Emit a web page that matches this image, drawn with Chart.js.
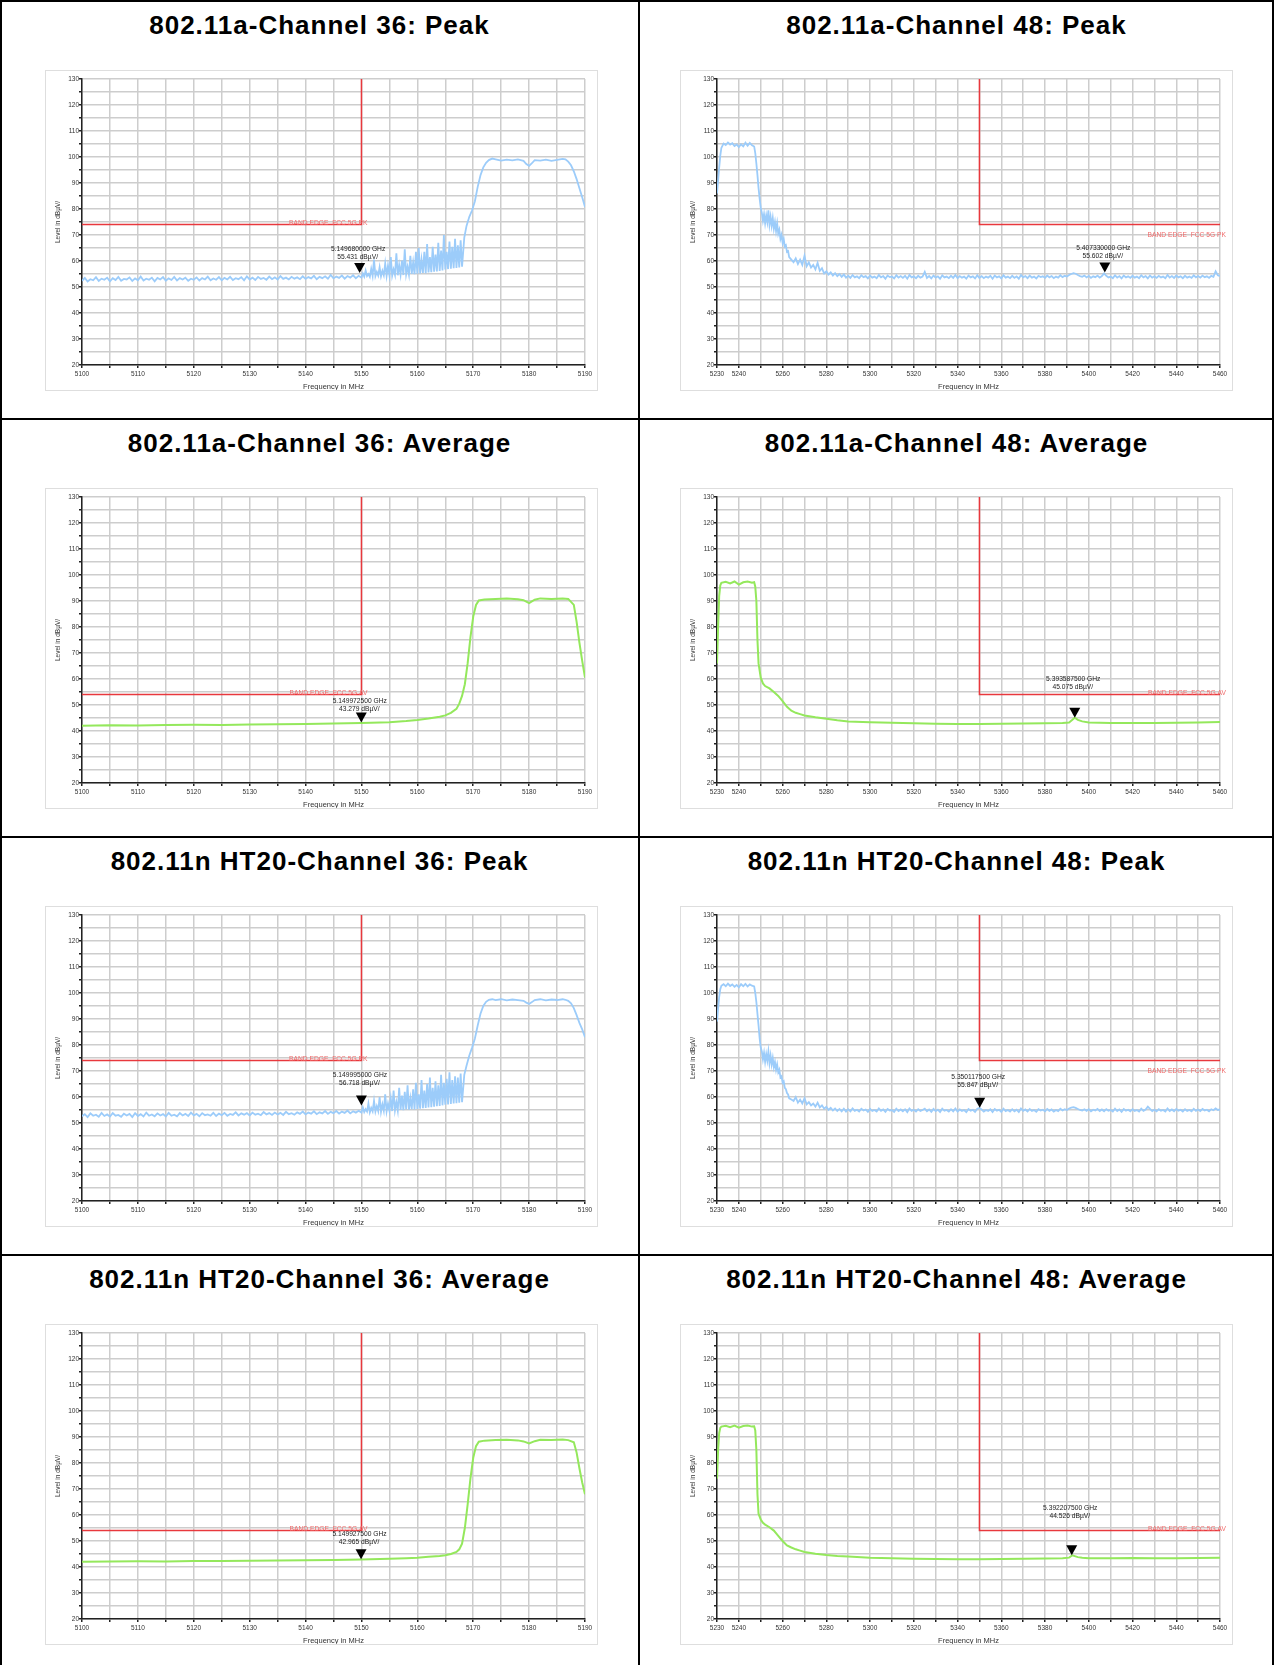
<!DOCTYPE html>
<html>
<head>
<meta charset="utf-8">
<script src="https://cdn.jsdelivr.net/npm/chart.js@4.4.1/dist/chart.umd.min.js"></script>
<style>
  body { margin: 0; background: #fff; }
  #page { position: relative; width: 1274px; height: 1665px; overflow: hidden; background: #fff; }
  .rule { position: absolute; background: #000; }
  .title { position: absolute; height: 30px; line-height: 30px; text-align: center;
           font: bold 26px "Liberation Sans", Arial, sans-serif; letter-spacing: 1px; color: #000; }
  canvas { position: absolute; outline: 1px solid #dedede; outline-offset: -1px; }
</style>
</head>
<body>
<div id="page"></div>
<script>
// ---- data ----
const chartTitles = [
  "802.11a-Channel 36: Peak", "802.11a-Channel 48: Peak",
  "802.11a-Channel 36: Average", "802.11a-Channel 48: Average",
  "802.11n HT20-Channel 36: Peak", "802.11n HT20-Channel 48: Peak",
  "802.11n HT20-Channel 36: Average", "802.11n HT20-Channel 48: Average"
];

const yTickLabels = [20, 30, 40, 50, 60, 70, 80, 90, 100, 110, 120, 130];
const ch36TickLabels = [5100, 5110, 5120, 5130, 5140, 5150, 5160, 5170, 5180, 5190];
const ch48TickLabels = [5230, 5240, 5260, 5280, 5300, 5320, 5340, 5360, 5380, 5400, 5420, 5440, 5460];

// limit lines (FCC band edge)
const ch36LimitFreq = [5100, 5150, 5150];
const ch48LimitFreq = [5350, 5350, 5460];
const peakLimit36 = [74, 74, 130];
const peakLimit48 = [130, 74, 74];
const avgLimit36 = [54, 54, 130];
const avgLimit48 = [130, 54, 54];

// peak sweeps, channel 36
const ch36PeakFreq = [
  5100, 5100.5, 5101, 5101.5, 5102, 5102.5, 5103, 5103.5, 5104, 5104.5,
  5105, 5105.5, 5106, 5106.5, 5107, 5107.5, 5108, 5108.5, 5109, 5109.5,
  5110, 5110.5, 5111, 5111.5, 5112, 5112.5, 5113, 5113.5, 5114, 5114.5,
  5115, 5115.5, 5116, 5116.5, 5117, 5117.5, 5118, 5118.5, 5119, 5119.5,
  5120, 5120.5, 5121, 5121.5, 5122, 5122.5, 5123, 5123.5, 5124, 5124.5,
  5125, 5125.5, 5126, 5126.5, 5127, 5127.5, 5128, 5128.5, 5129, 5129.5,
  5130, 5130.5, 5131, 5131.5, 5132, 5132.5, 5133, 5133.5, 5134, 5134.5,
  5135, 5135.5, 5136, 5136.5, 5137, 5137.5, 5138, 5138.5, 5139, 5139.5,
  5140, 5140.5, 5141, 5141.5, 5142, 5142.5, 5143, 5143.5, 5144, 5144.5,
  5145, 5145.5, 5146, 5146.5, 5147, 5147.5, 5148, 5148.5, 5149, 5149.5,
  5150,
  5150.25, 5150.5, 5150.75, 5151, 5151.25, 5151.5, 5151.75, 5152,
  5152.25, 5152.5, 5152.75, 5153, 5153.25, 5153.5, 5153.75, 5154,
  5154.25, 5154.5, 5154.75, 5155, 5155.25, 5155.5, 5155.75, 5156,
  5156.25, 5156.5, 5156.75, 5157, 5157.25, 5157.5, 5157.75, 5158,
  5158.25, 5158.5, 5158.75, 5159, 5159.25, 5159.5, 5159.75, 5160,
  5160.25, 5160.5, 5160.75, 5161, 5161.25, 5161.5, 5161.75, 5162,
  5162.25, 5162.5, 5162.75, 5163, 5163.25, 5163.5, 5163.75, 5164,
  5164.25, 5164.5, 5164.75, 5165, 5165.25, 5165.5, 5165.75, 5166,
  5166.25, 5166.5, 5166.75, 5167, 5167.25, 5167.5, 5167.75, 5168,
  5168.4, 5168.8, 5169.3, 5169.8, 5170.3, 5170.8, 5171.3, 5171.8, 5172.3, 5172.8,
  5173.4, 5174, 5175, 5176, 5177, 5178, 5179, 5179.5, 5180, 5180.5,
  5181, 5182, 5183, 5184, 5185, 5186, 5186.5, 5187, 5187.5, 5188,
  5188.5, 5189, 5189.5, 5190
];
const a36Peak = [
  52.4, 53.5, 52.1, 53.0, 52.6, 53.8, 52.3, 53.2, 52.8, 53.6,
  52.2, 53.4, 52.7, 53.9, 52.4, 53.1, 52.9, 53.7, 52.3, 53.3,
  52.6, 54.0, 52.5, 53.2, 52.8, 53.6, 52.2, 53.5, 52.9, 53.8,
  52.4, 53.3, 52.7, 53.9, 52.5, 53.4, 52.9, 53.6, 52.4, 53.2,
  52.8, 53.7, 52.5, 53.4, 52.9, 54.0, 52.6, 53.3, 52.8, 53.8,
  52.6, 53.5, 52.9, 53.9, 52.7, 53.4, 53.0, 53.8, 52.6, 54.1,
  52.9, 53.6, 52.7, 53.9, 53.1, 53.5, 52.8, 54.0, 53.0, 53.7,
  52.9, 54.2, 53.1, 53.6, 52.9, 53.9, 53.2, 53.7, 53.0, 54.1,
  53.1, 53.8, 53.3, 54.3, 53.0, 53.9, 53.4, 54.1, 53.2, 54.6,
  53.3, 54.0, 53.5, 54.4, 53.2, 54.2, 53.6, 54.5, 53.4, 54.3,
  53.6,
  55.2, 54.0, 56.3, 54.2, 55.0, 53.9, 57.0, 54.3,
  60.5, 54.2, 55.8, 54.4, 57.6, 54.1, 56.2, 54.5,
  59.0, 54.3, 58.2, 54.6, 61.5, 54.4, 56.8, 54.7,
  63.0, 54.5, 58.5, 54.8, 60.2, 54.6, 64.5, 54.9,
  57.8, 54.8, 62.0, 55.0, 59.5, 54.9, 63.5, 55.1,
  65.0, 55.2, 60.5, 55.4, 63.5, 55.3, 66.5, 55.6,
  61.5, 55.7, 65.5, 55.9, 62.5, 56.0, 67.0, 56.2,
  64.0, 56.4, 70.0, 56.7, 63.5, 56.9, 67.5, 57.0,
  65.5, 57.2, 68.5, 57.3, 66.0, 57.5, 68.0, 57.8,
  69.0, 73.5, 77.0, 79.5, 83.0, 88.5, 93.0, 96.0, 97.8, 98.8,
  99.4, 99.1, 98.6, 99.0, 98.7, 99.1, 98.5, 97.3, 96.6, 97.6,
  98.8, 98.6, 99.0, 98.5, 98.9, 99.3, 99.1, 98.2, 96.8, 94.5,
  91.5, 88.0, 84.5, 80.8
];
const n36Peak = [
  52.6, 53.4, 52.3, 53.7, 52.8, 53.2, 52.4, 53.9, 52.7, 53.3,
  52.5, 53.8, 52.8, 53.1, 52.4, 53.6, 52.9, 53.5, 52.3, 53.8,
  52.7, 53.4, 52.5, 54.0, 52.8, 53.3, 52.6, 53.7, 52.9, 53.4,
  52.5, 53.9, 52.8, 53.2, 52.6, 53.8, 52.9, 53.5, 52.7, 54.0,
  52.9, 53.5, 52.6, 53.8, 53.0, 53.3, 52.8, 53.9, 52.7, 53.6,
  53.0, 53.9, 52.8, 53.5, 53.1, 54.1, 52.9, 53.7, 53.2, 53.8,
  52.9, 54.0, 53.2, 53.6, 53.0, 54.2, 53.3, 53.8, 53.1, 54.0,
  53.3, 53.9, 53.1, 54.3, 53.4, 53.8, 53.2, 54.1, 53.5, 54.4,
  53.3, 54.0, 53.6, 54.5, 53.4, 54.1, 53.7, 54.6, 53.5, 54.3,
  53.8, 54.6, 53.6, 54.4, 53.9, 54.8, 53.7, 54.5, 54.0, 54.7,
  54.0,
  56.0, 54.2, 55.3, 54.4, 57.5, 54.1, 55.8, 54.5,
  58.5, 54.4, 56.5, 54.6, 60.0, 54.3, 57.2, 54.7,
  61.0, 54.5, 57.5, 54.8, 59.5, 54.6, 62.5, 54.9,
  58.0, 54.8, 63.5, 55.0, 60.5, 54.9, 62.0, 55.2,
  64.5, 55.1, 59.5, 55.3, 63.0, 55.2, 65.5, 55.4,
  61.0, 55.5, 66.5, 55.7, 62.5, 55.8, 65.0, 56.0,
  67.5, 56.1, 63.5, 56.3, 66.0, 56.5, 64.5, 56.6,
  68.5, 56.8, 65.5, 57.0, 67.0, 57.1, 69.5, 57.3,
  66.5, 57.5, 68.0, 57.6, 67.5, 57.8, 69.0, 58.0,
  68.5, 72.0, 76.0, 79.0, 82.5, 87.5, 92.0, 95.0, 96.6, 97.4,
  97.6, 97.3, 97.6, 97.2, 97.5, 97.3, 97.0, 96.3, 95.8, 96.5,
  97.3, 97.6, 97.2, 97.5, 97.3, 97.6, 97.4, 97.0, 96.0, 94.2,
  91.5, 88.5, 86.0, 83.0
];

// peak sweeps, channel 48
const ch48PeakFreq = [
  5230, 5230.5, 5231, 5231.5, 5232, 5233, 5234, 5235, 5236, 5237,
  5238, 5239, 5240, 5241, 5242, 5243, 5244, 5245, 5246, 5247,
  5247.5, 5248, 5248.5, 5249, 5249.5, 5250, 5250.5, 5251, 5251.5, 5252,
  5252.5, 5253, 5253.5, 5254, 5254.5, 5255, 5255.5, 5256, 5256.5, 5257,
  5257.5, 5258, 5258.5, 5259, 5259.5, 5260, 5260.5, 5261, 5261.5, 5262,
  5262.5, 5263, 5264, 5265, 5266, 5267, 5268, 5269, 5270, 5271,
  5272, 5273, 5274, 5275, 5276, 5277, 5278, 5279, 5280, 5281,
  5282, 5283, 5284, 5285, 5286, 5287, 5288, 5289,
  5290, 5291, 5292, 5293, 5294, 5295, 5296, 5297, 5298, 5299,
  5300, 5301, 5302, 5303, 5304, 5305, 5306, 5307, 5308, 5309,
  5310, 5311, 5312, 5313, 5314, 5315, 5316, 5317, 5318, 5319,
  5320, 5321, 5322, 5323, 5324, 5325, 5326, 5327, 5328, 5329,
  5330, 5331, 5332, 5333, 5334, 5335, 5336, 5337, 5338, 5339,
  5340, 5341, 5342, 5343, 5344, 5345, 5346, 5347, 5348, 5349,
  5350, 5351, 5352, 5353, 5354, 5355, 5356, 5357, 5358, 5359,
  5360, 5361, 5362, 5363, 5364, 5365, 5366, 5367, 5368, 5369,
  5370, 5371, 5372, 5373, 5374, 5375, 5376, 5377, 5378, 5379,
  5380, 5381, 5382, 5383, 5384, 5385, 5386, 5387, 5388, 5389,
  5390, 5391, 5392, 5393, 5394, 5395, 5396, 5397, 5398, 5399,
  5400, 5401, 5402, 5403, 5404, 5405, 5406, 5407, 5408, 5409,
  5410, 5411, 5412, 5413, 5414, 5415, 5416, 5417, 5418, 5419,
  5420, 5421, 5422, 5423, 5424, 5425, 5426, 5427, 5428, 5429,
  5430, 5431, 5432, 5433, 5434, 5435, 5436, 5437, 5438, 5439,
  5440, 5441, 5442, 5443, 5444, 5445, 5446, 5447, 5448, 5449,
  5450, 5451, 5452, 5453, 5454, 5455, 5456, 5457, 5458, 5459,
  5460
];
const a48Peak = [
  86.0, 91.0, 96.0, 100.5, 103.5, 105.2, 104.6, 105.6, 104.8, 105.3,
  104.2, 104.8, 103.8, 104.9, 104.1, 105.5, 104.3, 105.4, 104.5, 104.0,
  101.5, 97.5, 93.0, 88.0, 84.0, 80.5, 78.5, 75.5, 78.0, 74.5,
  77.5, 75.0, 79.5, 74.0, 77.0, 73.5, 76.5, 72.5, 75.0, 71.5,
  74.5, 70.5, 72.0, 68.5, 70.0, 67.0, 68.5, 65.5, 66.0, 63.5,
  63.8, 61.5, 60.5, 59.5, 61.0, 58.8, 60.5, 58.5, 62.0, 58.0,
  59.5, 57.5, 58.5, 56.8, 59.3, 56.2, 57.2, 55.2, 56.0, 54.8,
  55.6, 54.4, 55.3, 54.2, 55.0, 53.9, 54.8, 53.6,
  54.3, 53.5, 54.6, 53.7, 54.1, 53.4, 54.5, 53.8, 54.2, 53.3,
  54.4, 53.6, 54.0, 53.4, 54.6, 53.7, 54.2, 53.2, 54.4, 53.8,
  54.0, 53.3, 54.5, 53.6, 54.2, 53.5, 54.3, 53.2, 54.6, 53.7,
  54.1, 53.4, 54.3, 53.6, 54.0, 55.8, 53.5, 54.2, 53.3, 54.4,
  53.6, 54.1, 53.2, 54.5, 53.7, 54.0, 53.4, 54.3, 53.5, 54.6,
  53.4, 54.2, 53.6, 54.0, 53.2, 54.4, 53.7, 54.1, 53.3, 54.5,
  53.5, 54.2, 53.4, 54.0, 53.6, 54.3, 53.2, 54.4, 53.7, 54.1,
  53.3, 54.5, 53.6, 54.0, 53.4, 54.3, 53.5, 54.1, 53.2, 54.6,
  53.7, 54.2, 53.4, 54.4, 53.6, 54.0, 53.3, 54.3, 53.8, 54.1,
  53.5, 54.4, 53.7, 54.2, 53.4, 54.0, 53.6, 54.5, 53.8, 54.3,
  54.0, 54.6, 55.0, 55.3, 55.1, 54.6, 54.2, 53.9, 54.4, 53.7,
  54.3, 53.5, 54.1, 53.8, 54.4, 53.6, 54.2, 55.2, 54.3, 53.7,
  54.0, 53.4, 54.5, 53.6, 54.2, 53.3, 54.4, 53.7, 54.1, 53.5,
  54.3, 53.6, 54.0, 53.4, 54.5, 53.7, 54.2, 53.3, 54.4, 53.6,
  54.1, 53.5, 54.3, 53.7, 54.0, 53.4, 54.6, 53.6, 54.2, 53.5,
  54.4, 53.7, 54.1, 53.4, 54.3, 53.6, 54.0, 53.5, 54.5, 53.7,
  54.2, 53.6, 54.4, 53.8, 54.1, 53.5, 54.3, 53.9, 56.0, 54.5,
  54.2
];
const n48Peak = [
  89.0, 94.0, 98.5, 101.5, 102.8, 103.4, 102.6, 103.6, 102.7, 103.3,
  102.4, 103.1, 102.2, 103.4, 102.6, 103.5, 102.5, 103.3, 102.8, 102.5,
  100.0, 96.5, 92.0, 87.5, 82.5, 79.0, 77.5, 74.5, 77.0, 73.5,
  76.5, 74.0, 77.5, 73.0, 76.0, 72.5, 75.0, 71.5, 73.5, 70.5,
  72.5, 69.5, 70.5, 67.5, 68.0, 65.5, 66.0, 63.5, 63.0, 61.5,
  61.0, 59.5, 59.0, 58.5, 60.0, 57.8, 59.0, 57.5, 59.5, 57.2,
  58.0, 56.8, 57.5, 56.3, 57.8, 56.0, 56.8, 55.5, 56.2, 55.0,
  55.8, 54.8, 55.6, 54.6, 55.4, 54.5, 55.5, 54.4,
  55.3, 54.5, 55.6, 54.7, 55.1, 54.4, 55.5, 54.8, 55.2, 54.3,
  55.4, 54.6, 55.0, 54.4, 55.6, 54.7, 55.2, 54.3, 55.4, 54.8,
  55.0, 54.3, 55.5, 54.6, 55.2, 54.5, 55.3, 54.2, 55.6, 54.7,
  55.1, 54.4, 55.3, 54.6, 55.0, 55.5, 54.5, 55.2, 54.3, 55.4,
  54.6, 55.1, 54.2, 55.5, 54.7, 55.0, 54.4, 55.3, 54.5, 55.6,
  54.4, 55.2, 54.6, 55.0, 54.2, 55.4, 54.7, 55.1, 54.3, 55.5,
  55.8, 55.2, 54.4, 55.0, 54.6, 55.3, 54.2, 55.4, 54.7, 55.1,
  54.3, 55.5, 54.6, 55.0, 54.4, 55.3, 54.5, 55.1, 54.2, 55.6,
  54.7, 55.2, 54.4, 55.4, 54.6, 55.0, 54.3, 55.3, 54.8, 55.1,
  54.5, 55.4, 54.7, 55.2, 54.4, 55.0, 54.6, 55.5, 54.8, 55.3,
  55.0, 55.6, 55.9, 56.1, 55.8, 55.4, 55.0, 54.8, 55.3, 54.7,
  55.3, 54.5, 55.1, 54.8, 55.4, 54.6, 55.2, 54.5, 55.3, 54.7,
  55.0, 54.4, 55.5, 54.6, 55.2, 54.3, 55.4, 54.7, 55.1, 54.5,
  55.3, 54.6, 55.0, 54.4, 55.5, 54.7, 55.2, 56.3, 55.4, 54.6,
  55.1, 54.5, 55.3, 54.7, 55.0, 54.4, 55.6, 54.6, 55.2, 54.5,
  55.4, 54.7, 55.1, 54.4, 55.3, 54.6, 55.0, 54.5, 55.5, 54.7,
  55.2, 54.6, 55.4, 54.8, 55.1, 54.5, 55.3, 54.9, 55.6, 55.0,
  55.2
];

// average sweeps, channel 36
const ch36AvgFreq = [
  5100, 5105, 5110, 5115, 5120, 5125, 5130, 5135, 5140, 5145,
  5150, 5155, 5158, 5160, 5162, 5164, 5165, 5166, 5167, 5167.5,
  5168, 5168.5, 5169, 5169.5, 5170, 5170.5, 5171, 5172, 5174, 5176,
  5178, 5179, 5180, 5181, 5182, 5184, 5186, 5187, 5188, 5188.5,
  5189, 5189.5, 5190
];
const a36Avg = [
  42.0, 42.2, 42.1, 42.3, 42.4, 42.3, 42.5, 42.6, 42.7, 42.9,
  43.1, 43.4, 43.8, 44.2, 44.8, 45.5, 46.0, 47.0, 48.5, 50.5,
  53.5, 58.0, 66.0, 76.0, 84.0, 88.5, 90.2, 90.6, 90.8, 91.0,
  90.7, 90.3, 89.2, 90.5, 91.0, 90.8, 91.0, 90.8, 88.5, 82.0,
  74.0, 67.0, 60.5
];
const n36Avg = [
  42.0, 42.1, 42.2, 42.1, 42.3, 42.3, 42.4, 42.5, 42.6, 42.7,
  42.9, 43.2, 43.4, 43.6, 43.9, 44.2, 44.5, 45.0, 45.8, 46.8,
  49.0, 55.0, 64.0, 74.0, 82.0, 86.5, 88.2, 88.6, 88.8, 88.9,
  88.7, 88.3, 87.5, 88.4, 88.9, 88.8, 89.0, 88.8, 88.0, 84.0,
  78.0, 72.5, 68.0
];

// average sweeps, channel 48
const ch48AvgFreq = [
  5230, 5230.5, 5231, 5231.5, 5232, 5234, 5236, 5238, 5240, 5242,
  5244, 5246, 5247, 5247.5, 5248, 5248.5, 5249, 5250, 5251, 5252,
  5254, 5256, 5258, 5260, 5262, 5264, 5266, 5268, 5270, 5275,
  5280, 5285, 5290, 5300, 5310, 5320, 5330, 5340, 5350, 5360,
  5370, 5380, 5388, 5391, 5392.5, 5393.6, 5395, 5397, 5400, 5410,
  5420, 5430, 5440, 5450, 5460
];
const a48Avg = [
  66.0, 80.0, 92.0, 96.0, 97.0, 97.4, 96.8, 97.5, 96.3, 97.2,
  97.5, 97.0, 97.2, 95.5, 90.0, 75.0, 66.0, 60.5, 58.3, 57.3,
  56.4, 55.0, 53.5, 51.5, 49.3, 47.8, 47.0, 46.5, 46.0, 45.3,
  44.7, 44.1, 43.7, 43.4, 43.2, 43.0, 42.8, 42.7, 42.7, 42.8,
  42.9, 43.0, 43.1, 43.3, 44.3, 45.1, 44.3, 43.7, 43.3, 43.1,
  43.1, 43.1, 43.2, 43.3, 43.5
];
const n48Avg = [
  74.0, 85.0, 91.5, 93.5, 94.0, 94.3, 93.8, 94.4, 93.6, 94.2,
  94.4, 94.0, 94.1, 92.5, 85.0, 68.0, 60.5, 58.3, 57.0, 56.3,
  55.3, 54.0, 52.0, 50.0, 48.3, 47.5, 46.8, 46.3, 45.8, 45.1,
  44.6, 44.2, 44.0, 43.6, 43.4, 43.2, 43.1, 43.0, 43.0, 43.1,
  43.2, 43.3, 43.4, 43.6, 44.5, 44.2, 43.8, 43.6, 43.4, 43.4,
  43.5, 43.4, 43.4, 43.5, 43.6
];

// marker readouts (frequency in MHz, level in dBµV)
const markerFreq = [5149.68, 5407.33, 5149.9725, 5393.5875, 5149.995, 5350.1175, 5149.9275, 5392.2075];
const markerLevel = [55.431, 55.602, 43.279, 45.075, 56.718, 55.847, 42.965, 44.526];
const markerText = [
  ["5.149680000 GHz", "55.431 dBµV/"], ["5.407330000 GHz", "55.602 dBµV/"],
  ["5.149972500 GHz", "43.279 dBµV/"], ["5.393587500 GHz", "45.075 dBµV/"],
  ["5.149995000 GHz", "56.718 dBµV/"], ["5.350117500 GHz", "55.847 dBµV/"],
  ["5.149927500 GHz", "42.965 dBµV/"], ["5.392207500 GHz", "44.526 dBµV/"]
];

// ---- page layout ----
const FONT = '"Liberation Sans", Arial, sans-serif';
const PEAK_COLOR = "#9cccfa";
const AVG_COLOR = "#94e85c";
const LIMIT_COLOR = "#e8383d";
const ROW_H = 418;
const COL_X = [0, 639];
const COL_W = [639, 635];

Chart.defaults.font.family = FONT;
Chart.defaults.animation = false;

const page = document.getElementById("page");
function rule(x, y, w, h) {
  const d = document.createElement("div");
  d.className = "rule";
  Object.assign(d.style, { left: x + "px", top: y + "px", width: w + "px", height: h + "px" });
  page.appendChild(d);
}
rule(0, 0, 1274, 2);
rule(0, 0, 2, 1665);
rule(1272, 0, 2, 1665);
rule(638, 0, 2, 1665);
for (let r = 1; r < 4; r++) rule(0, ROW_H * r, 1274, 2);

function pts(xs, ys) {
  if (xs.length !== ys.length) console.warn("length mismatch", xs.length, ys.length);
  return xs.map((x, i) => ({ x: x, y: ys[i] }));
}

// draws the limit label, the marker triangle and its readout
const markerPlugin = {
  id: "marker",
  afterDatasetsDraw(chart) {
    const o = chart.options.plugins.marker;
    const xs = chart.scales.x, ys = chart.scales.y;
    const ctx = chart.ctx;
    ctx.save();
    // limit label
    ctx.font = "6.7px " + FONT;
    ctx.fillStyle = "#f06a6a";
    ctx.textAlign = "right";
    ctx.textBaseline = "alphabetic";
    const lx = xs.getPixelForValue(o.labelFreq) + 6;
    const ly = ys.getPixelForValue(o.limit) + (o.labelBelow ? 12 : 0);
    ctx.fillText(o.label, lx, ly);
    // marker
    const px = xs.getPixelForValue(o.freq);
    const py = ys.getPixelForValue(o.level);
    ctx.fillStyle = "#000";
    ctx.beginPath();
    ctx.moveTo(px - 5.5, py - 10);
    ctx.lineTo(px + 5.5, py - 10);
    ctx.lineTo(px, py);
    ctx.closePath();
    ctx.fill();
    ctx.fillStyle = "#222";
    ctx.textAlign = "center";
    ctx.textBaseline = "middle";
    ctx.fillText(o.text[0], px - 1.5, py + o.textDy);
    ctx.fillText(o.text[1], px - 2, py + o.textDy + 8);
    ctx.restore();
  }
};

function makeChart(idx, cfg) {
  const col = idx % 2, row = Math.floor(idx / 2);
  const t = document.createElement("div");
  t.className = "title";
  t.textContent = chartTitles[idx];
  Object.assign(t.style, { left: COL_X[col] + "px", width: COL_W[col] + "px", top: (ROW_H * row + 10) + "px" });
  page.appendChild(t);

  const cv = document.createElement("canvas");
  cv.width = 553; cv.height = 321;
  Object.assign(cv.style, { left: (col ? 680 : 45) + "px", top: (ROW_H * row + 70) + "px" });
  page.appendChild(cv);

  const xLabels = col ? ch48TickLabels : ch36TickLabels;
  new Chart(cv, {
    type: "line",
    data: {
      datasets: [
        { data: pts(cfg.freq, cfg.level), borderColor: cfg.color, borderWidth: cfg.width,
          pointRadius: 0, tension: 0, order: 2 },
        { data: pts(cfg.limitFreq, cfg.limitLevel), borderColor: LIMIT_COLOR, borderWidth: 1.5,
          pointRadius: 0, tension: 0, order: 1 }
      ]
    },
    options: {
      responsive: false,
      devicePixelRatio: 1,
      layout: { padding: { left: 0, right: 13, top: 9, bottom: 0 } },
      plugins: {
        legend: { display: false },
        tooltip: { enabled: false },
        marker: {
          freq: markerFreq[idx], level: markerLevel[idx], text: markerText[idx], textDy: cfg.textDy,
          label: cfg.label, labelFreq: col ? 5460 : 5150, limit: cfg.limitLevel[1], labelBelow: cfg.labelBelow
        }
      },
      scales: {
        x: {
          type: "linear", min: col ? 5230 : 5100, max: col ? 5460 : 5190,
          ticks: { stepSize: col ? 10 : 5, maxTicksLimit: 100, autoSkip: false, maxRotation: 0,
                   padding: 2, color: "#333", font: { size: 6.5 },
                   callback: v => xLabels.includes(v) ? String(v) : "" },
          grid: { color: "#cdcdcd", lineWidth: 1.5, tickLength: 3, tickColor: "#222" },
          border: { color: "#222", width: 1.5 },
          title: { display: true, text: "Frequency in MHz", color: "#333", font: { size: 7.5 }, padding: 0 },
          afterFit: s => { s.height = 26; }
        },
        y: {
          type: "linear", min: 20, max: 130,
          ticks: { stepSize: 5, maxTicksLimit: 100, autoSkip: false, padding: 0, color: "#333",
                   font: { size: 6.5 }, callback: v => yTickLabels.includes(v) ? String(v) : "" },
          grid: { color: "#cdcdcd", lineWidth: 1.5, tickLength: 3, tickColor: "#222" },
          border: { color: "#222", width: 1.5 },
          title: { display: true, text: "Level in dBµV/", color: "#333", font: { size: 6.5 },
                   padding: { top: 9, bottom: 0 } },
          afterFit: s => { s.width = 37; }
        }
      }
    },
    plugins: [markerPlugin]
  });
}

const PK = "BAND EDGE  FCC 5G PK", AV = "BAND EDGE  FCC 5G AV";
makeChart(0, { freq: ch36PeakFreq, level: a36Peak, color: PEAK_COLOR, width: 1.8, limitFreq: ch36LimitFreq, limitLevel: peakLimit36, label: PK, labelBelow: false, textDy: -24 });
makeChart(1, { freq: ch48PeakFreq, level: a48Peak, color: PEAK_COLOR, width: 1.8, limitFreq: ch48LimitFreq, limitLevel: peakLimit48, label: PK, labelBelow: true, textDy: -24.5 });
makeChart(2, { freq: ch36AvgFreq, level: a36Avg, color: AVG_COLOR, width: 2, limitFreq: ch36LimitFreq, limitLevel: avgLimit36, label: AV, labelBelow: false, textDy: -21 });
makeChart(3, { freq: ch48AvgFreq, level: a48Avg, color: AVG_COLOR, width: 2, limitFreq: ch48LimitFreq, limitLevel: avgLimit48, label: AV, labelBelow: false, textDy: -38.5 });
makeChart(4, { freq: ch36PeakFreq, level: n36Peak, color: PEAK_COLOR, width: 1.8, limitFreq: ch36LimitFreq, limitLevel: peakLimit36, label: PK, labelBelow: false, textDy: -30.5 });
makeChart(5, { freq: ch48PeakFreq, level: n48Peak, color: PEAK_COLOR, width: 1.8, limitFreq: ch48LimitFreq, limitLevel: peakLimit48, label: PK, labelBelow: true, textDy: -31 });
makeChart(6, { freq: ch36AvgFreq, level: n36Avg, color: AVG_COLOR, width: 2, limitFreq: ch36LimitFreq, limitLevel: avgLimit36, label: AV, labelBelow: false, textDy: -25 });
makeChart(7, { freq: ch48AvgFreq, level: n48Avg, color: AVG_COLOR, width: 2, limitFreq: ch48LimitFreq, limitLevel: avgLimit48, label: AV, labelBelow: false, textDy: -47.5 });
</script>
</body>
</html>
